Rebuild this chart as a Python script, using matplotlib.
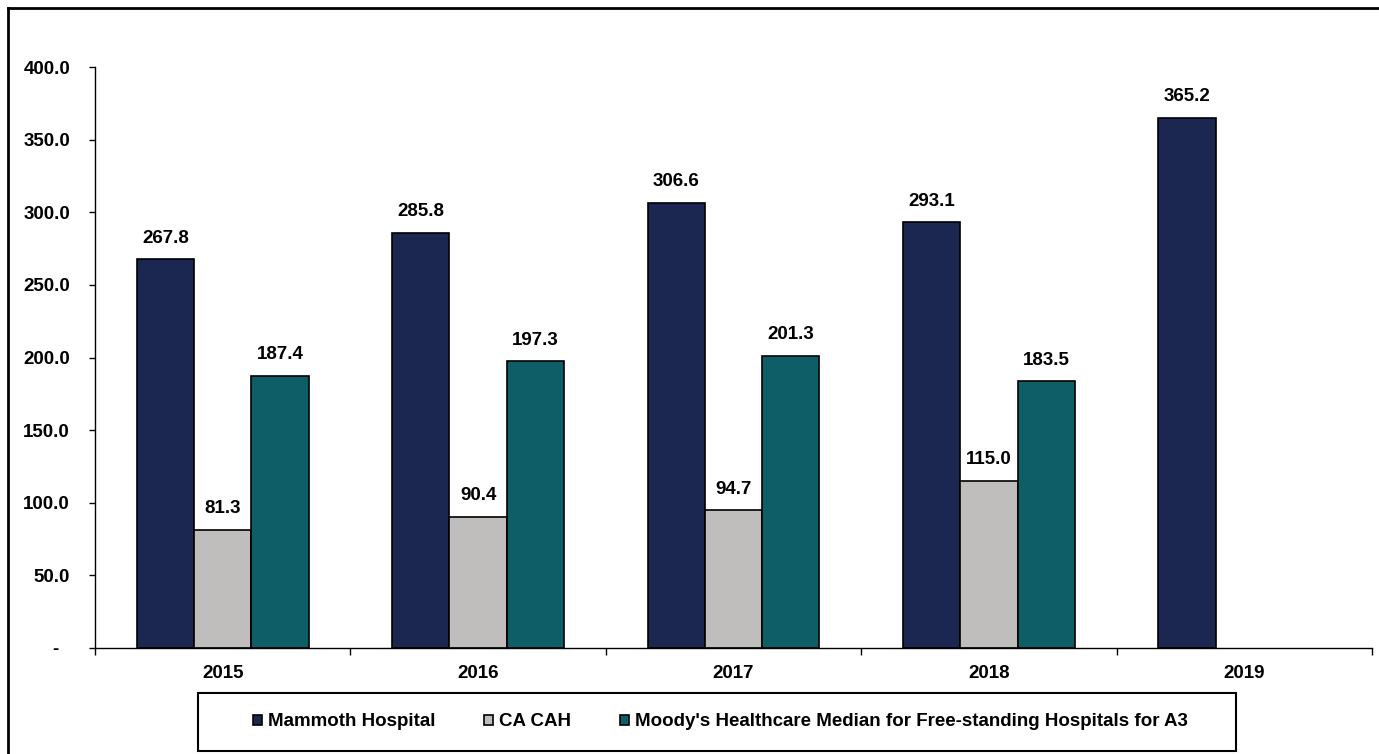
import numpy as np
import matplotlib
matplotlib.use('Agg')
import matplotlib.pyplot as plt
from matplotlib.patches import Rectangle
from matplotlib.lines import Line2D

plt.rcParams['font.family'] = ['Liberation Sans', 'DejaVu Sans']
plt.rcParams['font.weight'] = 'bold'
plt.rcParams['font.size'] = 13.5

years = ['2015', '2016', '2017', '2018', '2019']
series_names = ['Mammoth Hospital', 'CA CAH',
                "Moody's Healthcare Median for Free-standing Hospitals for A3"]
mammoth = [267.8, 285.8, 306.6, 293.1, 365.2]
ca_cah = [81.3, 90.4, 94.7, 115.0, None]
moodys = [187.4, 197.3, 201.3, 183.5, None]
colors = ['#1B2651', '#BFBEBC', '#0D5E67']

W, H = 1379, 754
fig = plt.figure(figsize=(W / 100, H / 100), dpi=100)
ax = fig.add_axes([95 / W, 1 - 648 / H, (1372 - 95) / W, (648 - 67) / H])

x = np.arange(len(years))
width = 0.224
handles = []
for i, (vals, col) in enumerate(zip([mammoth, ca_cah, moodys], colors)):
    xs = [xi + (i - 1) * width for xi, v in zip(x, vals) if v is not None]
    ys = [v for v in vals if v is not None]
    bars = ax.bar(xs, ys, width, color=col, edgecolor='black', linewidth=1.2,
                  label=series_names[i])
    handles.append(bars)
    for bx, by in zip(xs, ys):
        ax.annotate(f'{by:.1f}', (bx, by), xytext=(0, 9), textcoords='offset points',
                    ha='center', va='bottom', fontsize=13.5, fontweight='bold')

ax.set_xlim(-0.5, len(years) - 0.5)
ax.set_ylim(0, 400)
ax.set_yticks(np.arange(0, 401, 50))
ax.set_yticklabels(['-  '] + [f'{v:.1f}' for v in np.arange(50, 401, 50)])
ax.set_xticks(x)
ax.set_xticklabels(years)
ax.set_xticks(np.arange(-0.5, len(years), 1.0), minor=True)
ax.tick_params(axis='x', which='major', length=0, pad=12)
ax.tick_params(axis='x', which='minor', length=5, width=1.0, direction='out')
ax.tick_params(axis='y', length=4, width=1.0, direction='out', pad=14)
ax.spines['top'].set_visible(False)
ax.spines['right'].set_visible(False)
ax.spines['left'].set_linewidth(1.0)
ax.spines['bottom'].set_linewidth(1.0)

# outer chart border (left and top edges)
fig.add_artist(Line2D([7.5 / W, 7.5 / W], [0, 1 - 7.5 / H], color='black', lw=2.0))
fig.add_artist(Line2D([7.5 / W, 1], [1 - 7.5 / H, 1 - 7.5 / H], color='black', lw=2.0))

# legend box
fig.add_artist(Rectangle((198 / W, 1 - 751 / H), (1236 - 198) / W, (751 - 693) / H,
                         transform=fig.transFigure, fill=False, edgecolor='black', lw=1.5))
fig.legend(handles=handles, loc='center', ncol=3, frameon=False,
           bbox_to_anchor=(720 / W, 1 - 722 / H),
           handlelength=0.5, handleheight=0.5, handletextpad=0.3,
           columnspacing=2.6, fontsize=13.5)

fig.savefig('out.png', dpi=100)
